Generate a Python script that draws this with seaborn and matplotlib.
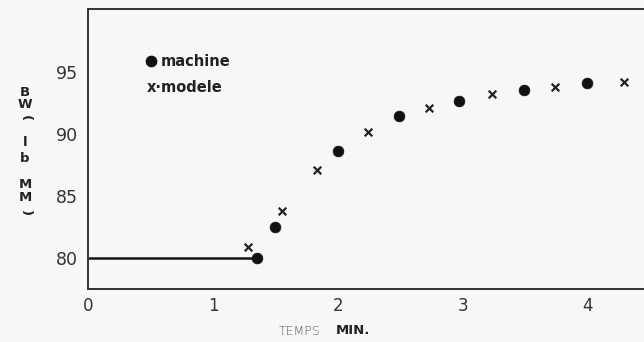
import matplotlib
matplotlib.use("Agg")
import matplotlib.pyplot as plt
import seaborn as sns
import pandas as pd

# data
machine_t = [1.35, 1.50, 2.00, 2.49, 2.97, 3.49, 3.99]
machine_bw = [80.0, 82.5, 88.6, 91.5, 92.7, 93.55, 94.1]
modele_t = [1.28, 1.55, 1.83, 2.24, 2.73, 3.23, 3.74, 4.29]
modele_bw = [80.9, 83.8, 87.1, 90.2, 92.1, 93.2, 93.8, 94.2]
base_t = [0.0, 1.35]
base_bw = [80.0, 80.0]
x_ticks = [0, 1, 2, 3, 4]
y_ticks = [80, 85, 90, 95]

sns.set_style("white")
plt.rcParams['font.family'] = ['DejaVu Sans']
bg = "#f7f7f5"
fig = plt.figure(figsize=(6.44, 3.42), dpi=100, facecolor=bg)
ax = fig.add_axes([88/644, 1-289/342, 1-88/644 + 0.01, (289-9)/342])
ax.set_facecolor(bg)

df_m = pd.DataFrame({"t": machine_t, "bw": machine_bw})
df_x = pd.DataFrame({"t": modele_t, "bw": modele_bw})
df_b = pd.DataFrame({"t": base_t, "bw": base_bw})

sns.lineplot(data=df_b, x="t", y="bw", ax=ax, color="#151515", linewidth=1.8)
sns.scatterplot(data=df_m, x="t", y="bw", ax=ax, color="#111111", marker="o", s=60, edgecolor="#111111", linewidth=0.5)
sns.scatterplot(data=df_x, x="t", y="bw", ax=ax, color="#222222", marker="x", s=30, linewidth=1.6)

ax.set_xlim(0, 4.5)
ax.set_ylim(77.5, 100.1)
ax.set_xticks(x_ticks)
ax.set_yticks(y_ticks)
ax.set_xticklabels([str(v) for v in x_ticks], fontsize=12, color="#333333")
ax.set_yticklabels([str(v) for v in y_ticks], fontsize=12.5, color="#333333")
ax.tick_params(axis="x", direction="in", length=3, width=1.2, color="#333333", pad=6)
ax.tick_params(axis="y", direction="out", length=3, width=1.2, color="#333333", pad=4)
ax.set_xlabel("")
ax.set_ylabel("")
for s in ["left", "bottom", "top"]:
    ax.spines[s].set_color("#333333")
    ax.spines[s].set_linewidth(1.4)
ax.spines["right"].set_visible(False)

# legend as text
ax.scatter([0.505], [95.9], s=55, color="#111111", marker="o")
fig.text(161/644, 1-61/342, "machine", fontsize=10.5, fontweight="bold", color="#222222",
         va="center", ha="left", family="DejaVu Sans")
fig.text(147/644, 1-87/342, "x·modele", fontsize=10.5, fontweight="bold", color="#222222",
         va="center", ha="left", family="DejaVu Sans")

# x label
fig.text(320/644, 1-331/342, "TEMPS", fontsize=9, color="#555555", ha="right", va="center",
         fontweight="light")
fig.text(336/644, 1-331/342, "MIN.", fontsize=9.5, color="#222222", ha="left", va="center",
         fontweight="bold")

# stacked y label
chars = [("B", 92, 0), ("W", 104, 0), ("(", 118, -90), ("l", 142, 0), ("b", 158, 0),
         ("M", 184, 0), ("M", 197, 0), (")", 213, -90)]
for ch, yy, rot in chars:
    fig.text(25/644, 1-yy/342, ch, fontsize=9.5, fontweight="bold", color="#222222",
             ha="center", va="center", rotation=rot, family="DejaVu Sans Condensed")

fig.savefig("out.png", dpi=100, facecolor=bg)
